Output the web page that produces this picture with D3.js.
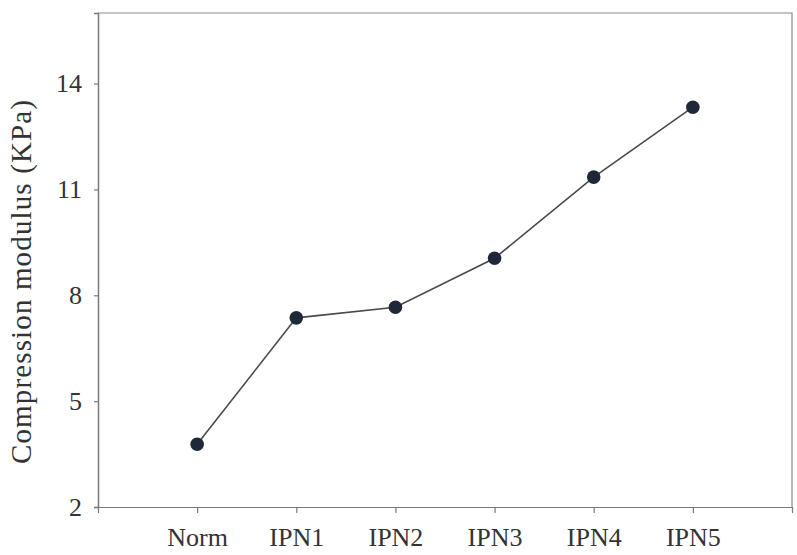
<!DOCTYPE html>
<html>
<head>
<meta charset="utf-8">
<script src="https://cdn.jsdelivr.net/npm/d3@7"></script>
<style>
  html, body { margin: 0; padding: 0; background: #fff; }
  svg { display: block; }
  text { font-family: "Liberation Serif", "Times New Roman", serif; fill: #333; }
</style>
</head>
<body>
<svg id="chart" width="797" height="555"></svg>
<script>
// Compression modulus per sample group
const categories = ["Norm", "IPN1", "IPN2", "IPN3", "IPN4", "IPN5"];
const modulus = [3.78, 7.36, 7.66, 9.05, 11.35, 13.33];
const yTicks = [2, 5, 8, 11, 14];
const yLabel = "Compression modulus (KPa)";

const svg = d3.select("#chart");
const m = { left: 98, top: 13, right: 792, bottom: 507 };

const x = d3.scalePoint().domain(categories).range([m.left, m.right]).padding(1);
const y = d3.scaleLinear().domain([2, 16]).range([m.bottom, m.top]);

const axisColor = "#7a7a7a";

// frame: top and right edges
svg.append("path")
  .attr("d", `M${m.left},${m.top}H${m.right}V${m.bottom}`)
  .attr("fill", "none").attr("stroke", "#8a8a8a").attr("stroke-width", 1.2);

// y axis
const gy = svg.append("g").attr("transform", `translate(${m.left},0)`)
  .call(d3.axisLeft(y).tickValues(yTicks).tickSize(4).tickPadding(12).tickFormat(d3.format("d")));
gy.select(".domain").attr("stroke", axisColor).attr("stroke-width", 1.5);
gy.selectAll(".tick line").attr("stroke", axisColor).attr("stroke-width", 1.2);
gy.selectAll(".tick text").attr("font-size", 26).attr("fill", "#333")
  .attr("font-family", "Liberation Serif, serif");

// x axis
const gx = svg.append("g").attr("transform", `translate(0,${m.bottom})`)
  .call(d3.axisBottom(x).tickSize(6).tickPadding(15));
gx.select(".domain").attr("stroke", axisColor).attr("stroke-width", 1.2);
gx.selectAll(".tick line").attr("stroke", axisColor).attr("stroke-width", 1.2);
gx.selectAll(".tick text").attr("font-size", 26).attr("fill", "#333")
  .attr("font-family", "Liberation Serif, serif");

// y axis title
svg.append("text")
  .attr("transform", `translate(31,282) rotate(-90)`)
  .attr("text-anchor", "middle")
  .attr("font-size", 29)
  .attr("textLength", 364)
  .attr("lengthAdjust", "spacing")
  .text(yLabel);

// connecting line
const line = d3.line().x((d, i) => x(categories[i])).y(d => y(d));
svg.append("path").datum(modulus)
  .attr("d", line)
  .attr("fill", "none").attr("stroke", "#4a4a4a").attr("stroke-width", 1.6);

// markers
svg.selectAll("circle.pt").data(modulus).join("circle")
  .attr("class", "pt")
  .attr("cx", (d, i) => x(categories[i]))
  .attr("cy", d => y(d))
  .attr("r", 6.8)
  .attr("fill", "#1f2838");
</script>
</body>
</html>
